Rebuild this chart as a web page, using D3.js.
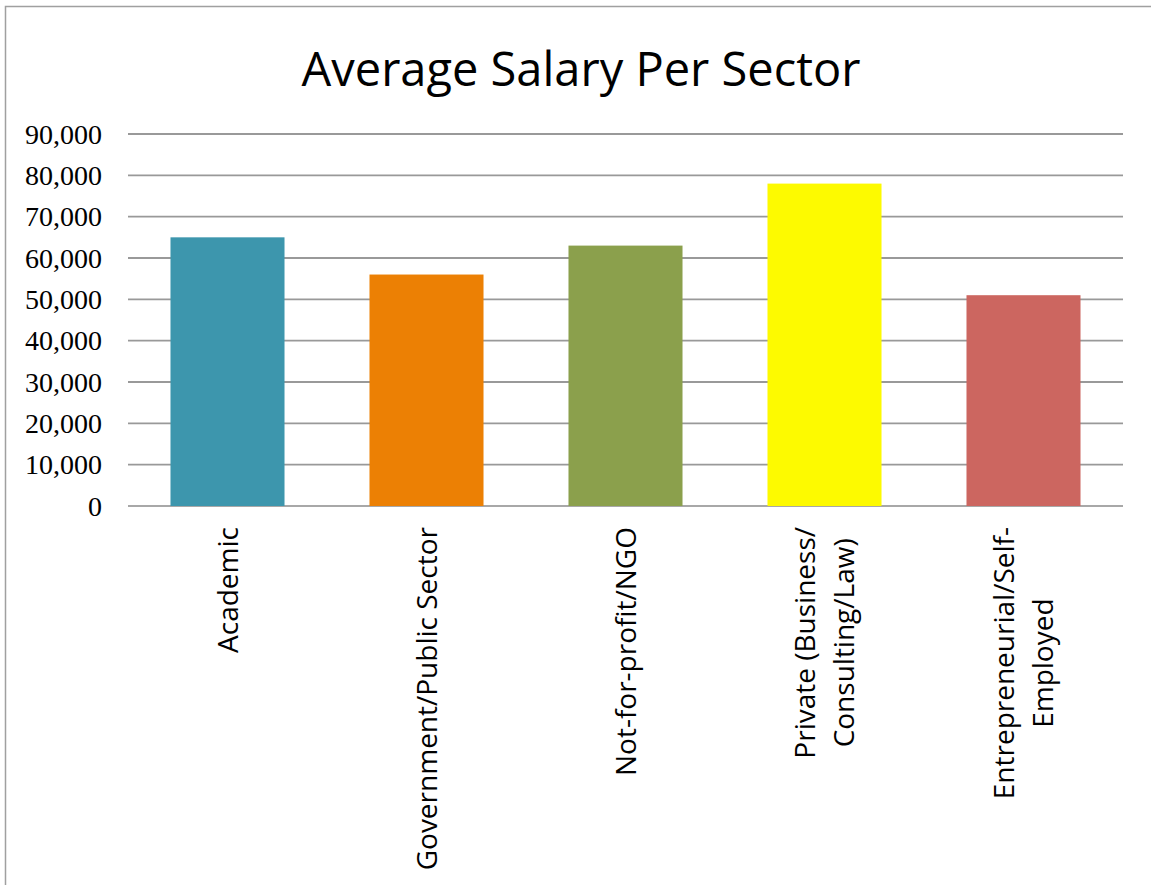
<!DOCTYPE html>
<html>
<head>
<meta charset="utf-8">
<script src="https://cdn.jsdelivr.net/npm/d3@7"></script>
<style>
  body { margin: 0; background: #fff; }
</style>
</head>
<body>
<div id="chart"></div>
<script>
// Data
var categories = ["Academic", "Government/Public Sector", "Not-for-profit/NGO", "Private (Business/Consulting/Law)", "Entrepreneurial/Self-Employed"];
var labelLines = [["Academic"], ["Government/Public Sector"], ["Not-for-profit/NGO"], ["Private (Business/", "Consulting/Law)"], ["Entrepreneurial/Self-", "Employed"]];
var salaries = [65000, 56000, 63000, 78000, 51000];
var barColors = ["#3d96ad", "#ec8004", "#8ba04c", "#fdfa00", "#cc6660"];
var yTicks = [0, 10000, 20000, 30000, 40000, 50000, 60000, 70000, 80000, 90000];

var width = 1151, height = 885;
var plot = { left: 128, right: 1123, top: 134, bottom: 506 };

var svg = d3.select("#chart").append("svg")
    .attr("width", width)
    .attr("height", height);

// chart frame (cut off on right/bottom like the screenshot)
svg.append("rect")
    .attr("x", 5.5).attr("y", 6.5)
    .attr("width", width + 10).attr("height", height + 10)
    .attr("fill", "none")
    .attr("stroke", "#a0a0a0")
    .attr("stroke-width", 1.5);

svg.append("text")
    .attr("x", 581).attr("y", 86)
    .attr("text-anchor", "middle")
    .attr("font-family", "'Open Sans', sans-serif")
    .attr("font-size", 47)
    .attr("fill", "#000")
    .text("Average Salary Per Sector");

var x = d3.scaleBand()
    .domain(categories)
    .range([plot.left, plot.right])
    .paddingInner(0.427)
    .paddingOuter(0.2135);

var y = d3.scaleLinear()
    .domain([0, 90000])
    .range([plot.bottom, plot.top]);

// gridlines
svg.append("g").selectAll("line")
    .data(yTicks)
    .enter().append("line")
    .attr("x1", plot.left).attr("x2", plot.right)
    .attr("y1", function(d) { return y(d); })
    .attr("y2", function(d) { return y(d); })
    .attr("stroke", function(d) { return d === 0 ? "#a8a8a8" : "#999999"; })
    .attr("stroke-width", 1.8);

// y tick labels
svg.append("g").selectAll("text")
    .data(yTicks)
    .enter().append("text")
    .attr("x", 102)
    .attr("y", function(d) { return y(d); })
    .attr("dy", "0.35em")
    .attr("text-anchor", "end")
    .attr("font-family", "'Liberation Serif', serif")
    .attr("font-size", 28)
    .attr("fill", "#000")
    .text(function(d) { return d3.format(",")(d); });

// bars
svg.append("g").selectAll("rect")
    .data(salaries)
    .enter().append("rect")
    .attr("x", function(d, i) { return x(categories[i]); })
    .attr("y", function(d) { return y(d); })
    .attr("width", x.bandwidth())
    .attr("height", function(d) { return y(0) - y(d); })
    .attr("fill", function(d, i) { return barColors[i]; });

// rotated category labels, lines centred on the longest line
var lineGap = 39;
var labelTop = 527;
categories.forEach(function(c, i) {
    var lines = labelLines[i];
    var cx = x(c) + x.bandwidth() / 2;
    var g = svg.append("g");
    var texts = lines.map(function(t) {
        return g.append("text")
            .attr("font-family", "'Open Sans', sans-serif")
            .attr("font-size", 28)
            .attr("fill", "#000")
            .attr("text-anchor", "middle")
            .text(t);
    });
    var maxLen = d3.max(texts, function(t) { return t.node().getComputedTextLength(); });
    var midY = labelTop + maxLen / 2;
    texts.forEach(function(t, k) {
        var bx = cx + 10 + (k - (lines.length - 1) / 2) * lineGap;
        t.attr("transform", "translate(" + bx + "," + midY + ") rotate(-90)");
    });
});
</script>
</body>
</html>
